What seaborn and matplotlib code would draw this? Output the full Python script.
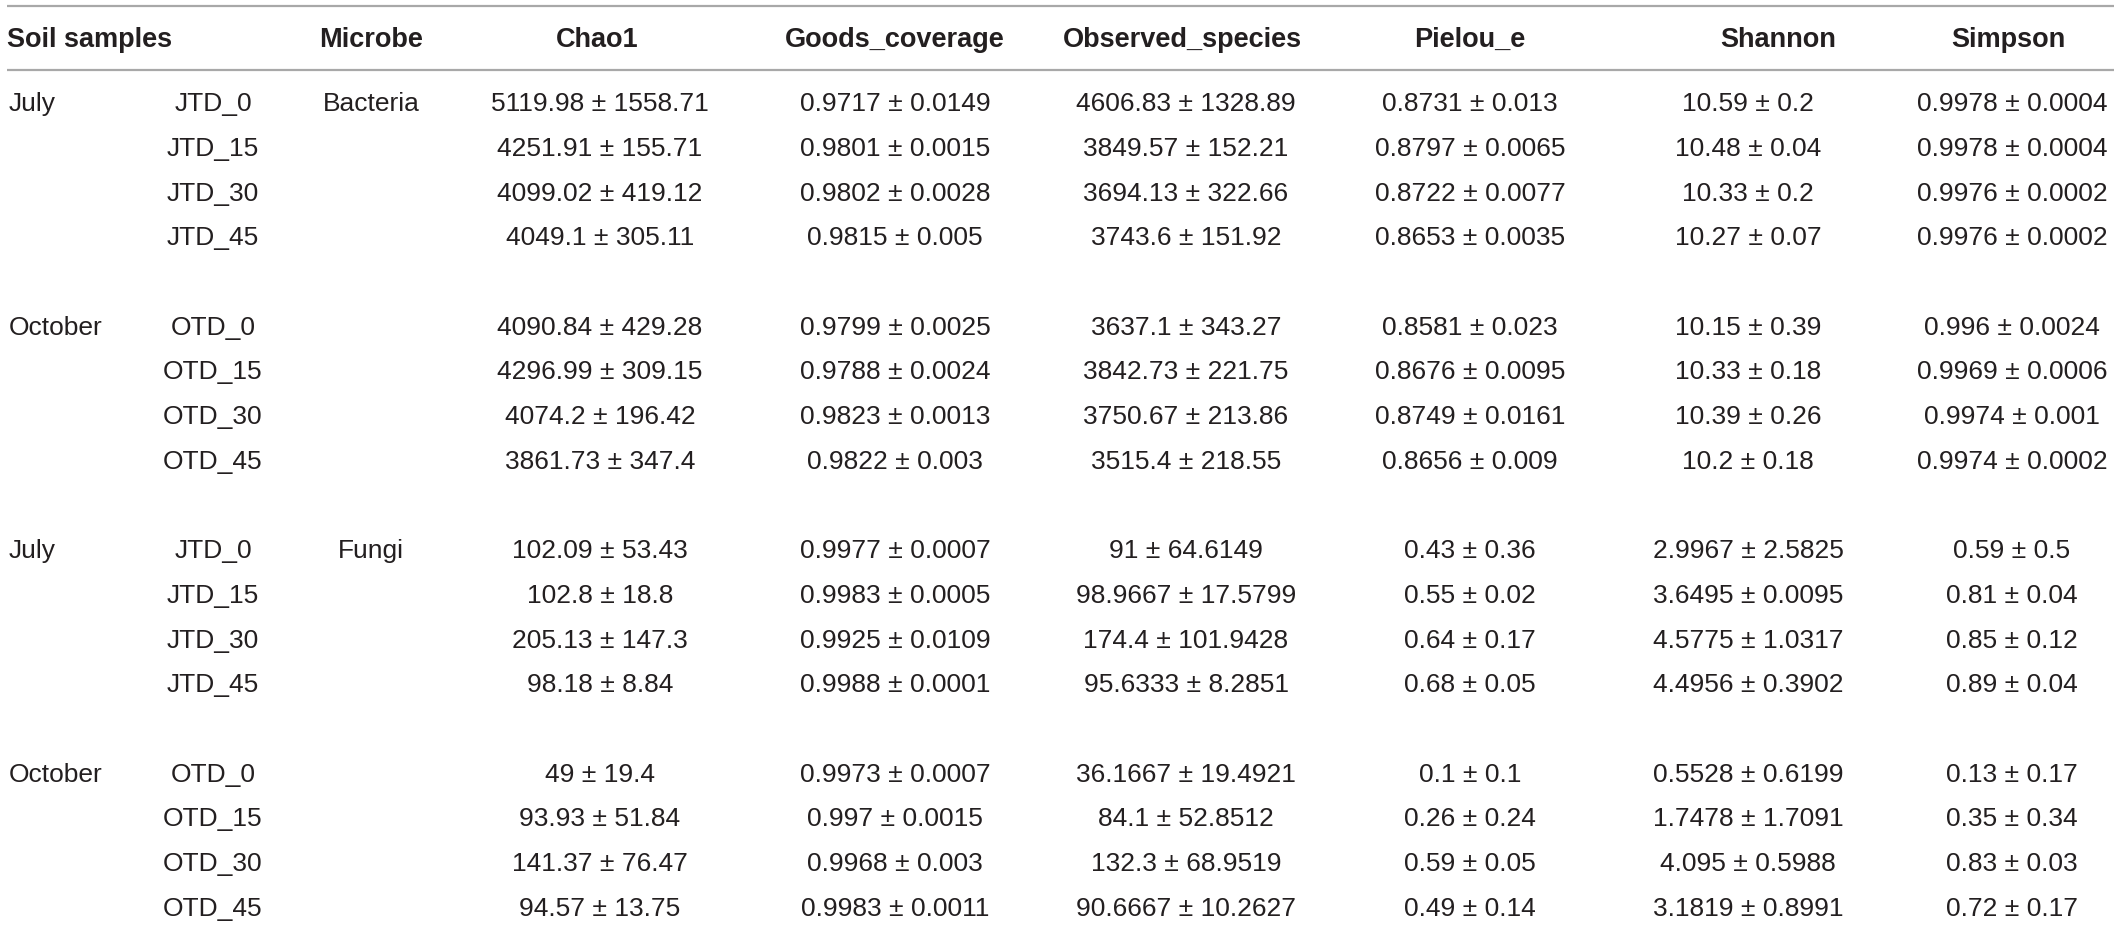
import matplotlib.pyplot as plt
import seaborn as sns

headers = ["Chao1", "Goods_coverage", "Observed_species", "Pielou_e", "Shannon", "Simpson"]
months = ["July", "October", "July", "October"]
microbes = ["Bacteria", "", "Fungi", ""]
samples = [
    ["JTD_0", "JTD_15", "JTD_30", "JTD_45"],
    ["OTD_0", "OTD_15", "OTD_30", "OTD_45"],
    ["JTD_0", "JTD_15", "JTD_30", "JTD_45"],
    ["OTD_0", "OTD_15", "OTD_30", "OTD_45"],
]

chao1 = [
    "5119.98 ± 1558.71", "4251.91 ± 155.71", "4099.02 ± 419.12", "4049.1 ± 305.11",
    "4090.84 ± 429.28", "4296.99 ± 309.15", "4074.2 ± 196.42", "3861.73 ± 347.4",
    "102.09 ± 53.43", "102.8 ± 18.8", "205.13 ± 147.3", "98.18 ± 8.84",
    "49 ± 19.4", "93.93 ± 51.84", "141.37 ± 76.47", "94.57 ± 13.75",
]
goods_coverage = [
    "0.9717 ± 0.0149", "0.9801 ± 0.0015", "0.9802 ± 0.0028", "0.9815 ± 0.005",
    "0.9799 ± 0.0025", "0.9788 ± 0.0024", "0.9823 ± 0.0013", "0.9822 ± 0.003",
    "0.9977 ± 0.0007", "0.9983 ± 0.0005", "0.9925 ± 0.0109", "0.9988 ± 0.0001",
    "0.9973 ± 0.0007", "0.997 ± 0.0015", "0.9968 ± 0.003", "0.9983 ± 0.0011",
]
observed_species = [
    "4606.83 ± 1328.89", "3849.57 ± 152.21", "3694.13 ± 322.66", "3743.6 ± 151.92",
    "3637.1 ± 343.27", "3842.73 ± 221.75", "3750.67 ± 213.86", "3515.4 ± 218.55",
    "91 ± 64.6149", "98.9667 ± 17.5799", "174.4 ± 101.9428", "95.6333 ± 8.2851",
    "36.1667 ± 19.4921", "84.1 ± 52.8512", "132.3 ± 68.9519", "90.6667 ± 10.2627",
]
pielou_e = [
    "0.8731 ± 0.013", "0.8797 ± 0.0065", "0.8722 ± 0.0077", "0.8653 ± 0.0035",
    "0.8581 ± 0.023", "0.8676 ± 0.0095", "0.8749 ± 0.0161", "0.8656 ± 0.009",
    "0.43 ± 0.36", "0.55 ± 0.02", "0.64 ± 0.17", "0.68 ± 0.05",
    "0.1 ± 0.1", "0.26 ± 0.24", "0.59 ± 0.05", "0.49 ± 0.14",
]
shannon = [
    "10.59 ± 0.2", "10.48 ± 0.04", "10.33 ± 0.2", "10.27 ± 0.07",
    "10.15 ± 0.39", "10.33 ± 0.18", "10.39 ± 0.26", "10.2 ± 0.18",
    "2.9967 ± 2.5825", "3.6495 ± 0.0095", "4.5775 ± 1.0317", "4.4956 ± 0.3902",
    "0.5528 ± 0.6199", "1.7478 ± 1.7091", "4.095 ± 0.5988", "3.1819 ± 0.8991",
]
simpson = [
    "0.9978 ± 0.0004", "0.9978 ± 0.0004", "0.9976 ± 0.0002", "0.9976 ± 0.0002",
    "0.996 ± 0.0024", "0.9969 ± 0.0006", "0.9974 ± 0.001", "0.9974 ± 0.0002",
    "0.59 ± 0.5", "0.81 ± 0.04", "0.85 ± 0.12", "0.89 ± 0.04",
    "0.13 ± 0.17", "0.35 ± 0.34", "0.83 ± 0.03", "0.72 ± 0.17",
]
metrics = [chao1, goods_coverage, observed_species, pielou_e, shannon, simpson]

# layout (pixels)
W, H = 2121, 927
header_x = [597, 895, 1182, 1470, 1778, 2008]
value_x = [600, 895, 1186, 1470, 1748, 2012]
month_x, sample_x, microbe_x = 9, 213, 371
first_row, pitch = 102, 44.7
cap = 9.2
ink = "#231f20"

sns.set_theme(style="white")
plt.rcParams["font.family"] = ["Liberation Sans", "DejaVu Sans"]

fig = plt.figure(figsize=(W / 100, H / 100), dpi=100)
ax = fig.add_axes([0, 0, 1, 1])
ax.set_xlim(0, W)
ax.set_ylim(H, 0)
ax.axis("off")

ax.hlines([6, 70], 7, 2114, color="#a8a8a8", lw=1.6)

hkw = dict(fontsize=19.5, fontweight="bold", color=ink, va="baseline")
ax.text(7, 38 + cap, "Soil samples", ha="left", **hkw)
ax.text(microbe_x, 38 + cap, "Microbe", ha="center", **hkw)
for x, h in zip(header_x, headers):
    ax.text(x, 38 + cap, h, ha="center", **hkw)

tkw = dict(fontsize=19, color=ink, va="baseline")
for g in range(4):
    for k in range(4):
        i = g * 4 + k
        y = first_row + (g * 5 + k) * pitch + cap
        if k == 0:
            ax.text(month_x, y, months[g], ha="left", **tkw)
            if microbes[g]:
                ax.text(microbe_x, y, microbes[g], ha="center", **tkw)
        ax.text(sample_x, y, samples[g][k], ha="center", **tkw)
        for x, col in zip(value_x, metrics):
            ax.text(x, y, col[i], ha="center", **tkw)

fig.savefig("out.png", dpi=100, facecolor="white")
